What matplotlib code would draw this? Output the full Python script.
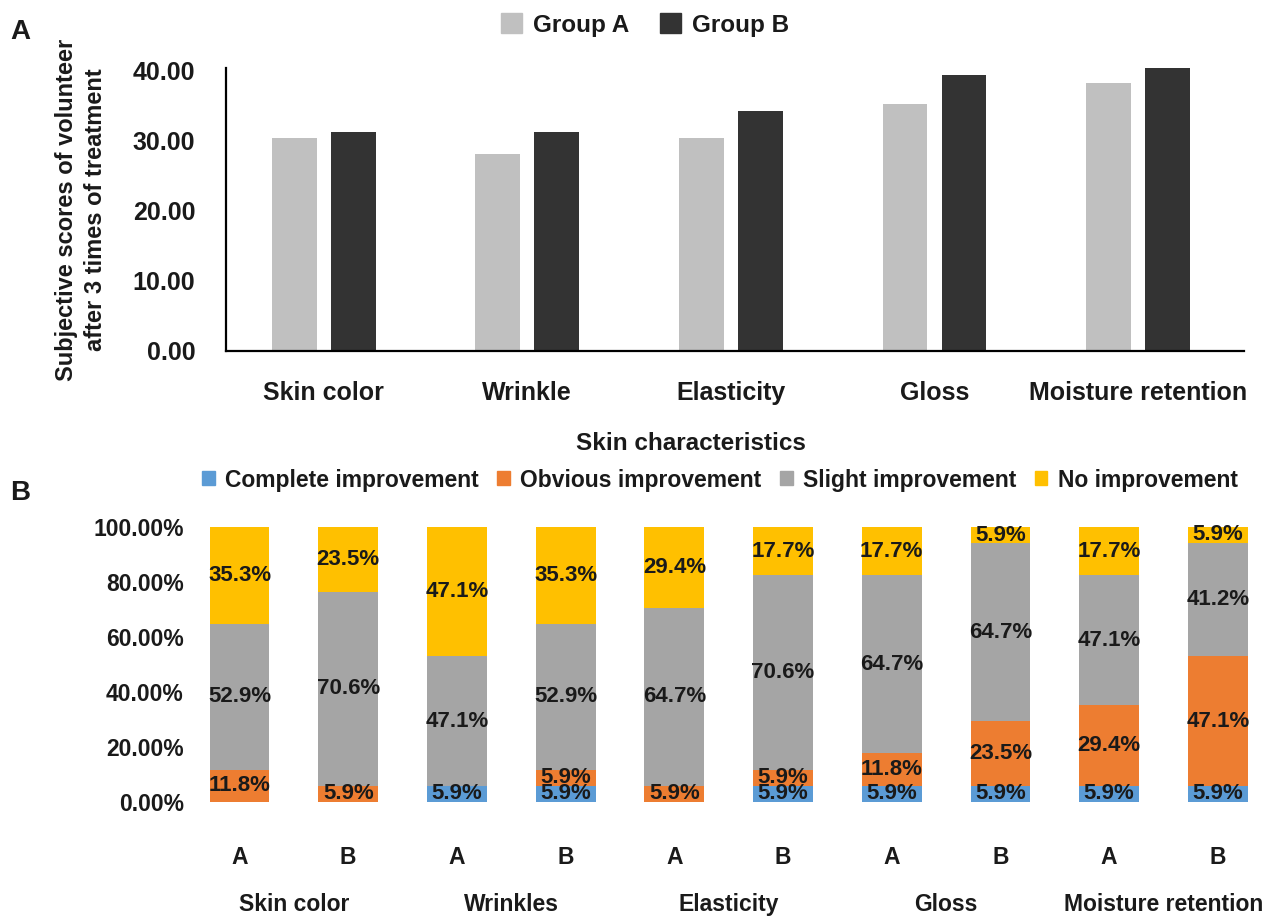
import matplotlib
matplotlib.use('Agg')
import numpy as np
import matplotlib.pyplot as plt
from matplotlib.patches import Patch
from matplotlib.ticker import PercentFormatter
import matplotlib.transforms as mtransforms

plt.rcParams['font.family'] = ['Liberation Sans', 'DejaVu Sans']
plt.rcParams['font.weight'] = 'bold'
txt = '#1a1a1a'

# panel A data
traits = ['Skin color', 'Wrinkle', 'Elasticity', 'Gloss', 'Moisture retention']
group_a = [30.3, 28.1, 30.3, 35.2, 38.2]
group_b = [31.2, 31.2, 34.2, 39.3, 40.3]

# panel B data (percent of volunteers)
pairs = ['Skin color', 'Wrinkles', 'Elasticity', 'Gloss', 'Moisture retention']
bar_groups = ['A', 'B'] * 5
complete = [0, 0, 5.9, 5.9, 0, 5.9, 5.9, 5.9, 5.9, 5.9]
obvious = [11.8, 5.9, 0, 5.9, 5.9, 5.9, 11.8, 23.5, 29.4, 47.1]
slight = [52.9, 70.6, 47.1, 52.9, 64.7, 70.6, 64.7, 64.7, 47.1, 41.2]
none_ = [35.3, 23.5, 47.1, 35.3, 29.4, 17.7, 17.7, 5.9, 17.7, 5.9]
levels = ['Complete improvement', 'Obvious improvement', 'Slight improvement', 'No improvement']
level_colors = ['#5b9bd5', '#ed7d31', '#a5a5a5', '#ffc000']

W, H = 1285, 917
fig = plt.figure(figsize=(W / 100, H / 100), dpi=100)

# ---------- panel A ----------
ax1 = fig.add_axes([226 / W, 1 - 351 / H, 1018 / W, 283 / H])
x = np.arange(len(traits))
bw = 0.22
ax1.bar(x - 0.145, group_a, bw, color='#c0c0c0', label='Group A')
ax1.bar(x + 0.145, group_b, bw, color='#333333', label='Group B')
ax1.set_xlim(-0.48, 4.52)
ax1.set_ylim(0, 40.3)
ax1.set_yticks([0, 10, 20, 30, 40])
ax1.set_yticklabels(['%.2f' % v for v in [0, 10, 20, 30, 40]], fontsize=18, color=txt)
ax1.tick_params(axis='y', length=0, pad=22)
ax1.set_xticks([])
for s in ['top', 'right']:
    ax1.spines[s].set_visible(False)
ax1.spines['left'].set_linewidth(1.6)
ax1.spines['bottom'].set_linewidth(1.6)
trans1 = mtransforms.blended_transform_factory(ax1.transData, ax1.transAxes)
for i, t in enumerate(traits):
    ax1.text(i, -0.148, t, transform=trans1, ha='center', va='center', fontsize=18, color=txt)

fig.legend(handles=[Patch(color='#c0c0c0'), Patch(color='#333333')], labels=['Group A', 'Group B'],
           ncol=2, loc='center', bbox_to_anchor=(645 / W, 1 - 25 / H), frameon=False,
           fontsize=17.5, handlelength=0.85, handleheight=0.85, handletextpad=0.45,
           columnspacing=1.3, labelcolor=txt)
fig.text(81 / W, 1 - 210 / H, 'Subjective scores of volunteer\nafter 3 times of treatment',
         rotation=90, ha='center', va='center', fontsize=17, color=txt, linespacing=1.3)
fig.text(691 / W, 1 - 443 / H, 'Skin characteristics', ha='center', va='center', fontsize=17.5, color=txt)
fig.text(10 / W, 1 - 32 / H, 'A', ha='left', va='center', fontsize=20, color=txt)

# ---------- panel B ----------
ax2 = fig.add_axes([190.6 / W, 1 - 802 / H, 1081.6 / W, 275 / H])
xb = np.arange(len(bar_groups))
series = [complete, obvious, slight, none_]
bottom = np.zeros(len(xb))
for vals, name, col in zip(series, levels, level_colors):
    bars = ax2.bar(xb, vals, 0.55, bottom=bottom, color=col, label=name)
    labs = ['%.1f%%' % v if v > 0 else '' for v in vals]
    ax2.bar_label(bars, labels=labs, label_type='center', fontsize=16, color=txt)
    bottom += np.array(vals)
ax2.set_xlim(-0.45, 9.5)
ax2.set_ylim(0, 100)
ax2.set_yticks([0, 20, 40, 60, 80, 100])
ax2.yaxis.set_major_formatter(PercentFormatter(decimals=2))
ax2.tick_params(axis='y', length=0, pad=5, labelsize=16.5, labelcolor=txt)
ax2.set_xticks([])
for s in ax2.spines.values():
    s.set_visible(False)
trans2 = mtransforms.blended_transform_factory(ax2.transData, ax2.transAxes)
for i, g in enumerate(bar_groups):
    ax2.text(i, -0.2, g, transform=trans2, ha='center', va='center', fontsize=16.5, color=txt)
for j, p in enumerate(pairs):
    ax2.text(2 * j + 0.5, -0.371, p, transform=trans2, ha='center', va='center', fontsize=16.5, color=txt)

fig.legend(handles=[Patch(color=c) for c in level_colors], labels=levels, ncol=4, loc='center',
           bbox_to_anchor=(720 / W, 1 - 480 / H), frameon=False, fontsize=16.5,
           handlelength=0.55, handleheight=0.55, handletextpad=0.45, columnspacing=0.8,
           labelcolor=txt)
fig.text(10 / W, 1 - 493 / H, 'B', ha='left', va='center', fontsize=20, color=txt)

fig.savefig('out.png', dpi=100)
